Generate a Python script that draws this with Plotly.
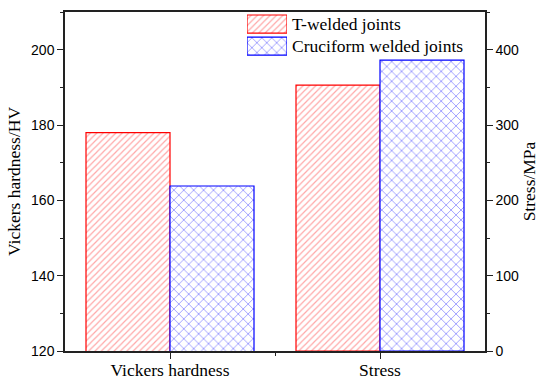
import plotly.graph_objects as go

categories = ["Vickers hardness", "Stress"]
series_names = ["T-welded joints", "Cruciform welded joints"]
t_welded = [178.0, 353.0]      # hardness (HV), stress (MPa)
cruciform = [163.8, 386.0]
left_ticks = [120, 140, 160, 180, 200]
right_ticks = [0, 100, 200, 300, 400]

x_pos = list(range(len(categories)))
serif = "Liberation Serif, Times New Roman, serif"
sans = "Liberation Sans, Arial, sans-serif"
axis_col = "#222222"

styles = [
    dict(line="#ff0000", fg="#ff5050", shape="/", size=4.5, sol=0.27, offset=-0.4),
    dict(line="#0000ff", fg="#3c3cff", shape="x", size=7, sol=0.25, offset=0.0),
]


def marker_for(st):
    return dict(color="white",
                line=dict(color=st["line"], width=1.2),
                pattern=dict(shape=st["shape"], fgcolor=st["fg"], bgcolor="white",
                             size=st["size"], solidity=st["sol"], fillmode="overlay"))


fig = go.Figure()
for si, (name, vals) in enumerate(zip(series_names, [t_welded, cruciform])):
    st = styles[si]
    for ci in range(len(categories)):
        fig.add_trace(go.Bar(
            x=[x_pos[ci]], y=[vals[ci]],
            yaxis="y" if ci == 0 else "y2",
            name=name, showlegend=False,
            width=0.4, offset=st["offset"],
            marker=marker_for(st),
        ))

# custom legend (large hatched swatches like the original)
for si, name in enumerate(series_names):
    fig.add_trace(go.Bar(
        x=[1], y=[len(series_names) - 1 - si], orientation="h",
        xaxis="x3", yaxis="y3", width=0.82, showlegend=False, hoverinfo="skip",
        marker=marker_for(styles[si]),
    ))
    fig.add_annotation(x=1, y=len(series_names) - 1 - si, xref="x3", yref="y3",
                       text=name, showarrow=False, xanchor="left", yanchor="middle",
                       xshift=3, font=dict(family=serif, size=17.5, color="black"))

fig.update_layout(
    width=550, height=384,
    margin=dict(l=65, r=65, t=12, b=33),
    paper_bgcolor="white", plot_bgcolor="white",
    barmode="overlay",
    showlegend=False,
    xaxis=dict(range=[-0.5, 1.5], tickvals=x_pos, ticktext=categories,
               showline=True, linecolor=axis_col, linewidth=1.5, mirror=True,
               ticks="outside", ticklen=6, tickcolor=axis_col, tickwidth=1.2,
               minor=dict(tickvals=[0.5], ticks="outside", ticklen=3, tickcolor=axis_col),
               showgrid=False, zeroline=False, automargin=False, ticklabelstandoff=-4,
               tickfont=dict(family=serif, size=17.5, color="black")),
    yaxis=dict(range=[120, 210], tickvals=left_ticks,
               title=dict(text="Vickers hardness/HV", font=dict(family=serif, size=17.5, color="black"), standoff=6),
               showline=True, linecolor=axis_col, linewidth=1.5,
               ticks="outside", ticklen=6, tickcolor=axis_col, tickwidth=1.2,
               minor=dict(dtick=10, tick0=120, ticks="outside", ticklen=3, tickcolor=axis_col),
               showgrid=False, zeroline=False, automargin=False,
               tickfont=dict(family=sans, size=14, color="black")),
    yaxis2=dict(range=[0, 450], tickvals=right_ticks, overlaying="y", side="right",
                title=dict(text="Stress/MPa", font=dict(family=serif, size=17.5, color="black"), standoff=4),
                showline=True, linecolor=axis_col, linewidth=1.5,
                ticks="outside", ticklen=6, tickcolor=axis_col, tickwidth=1.2,
                minor=dict(dtick=50, tick0=0, ticks="outside", ticklen=3, tickcolor=axis_col),
                showgrid=False, zeroline=False, automargin=False,
                tickfont=dict(family=sans, size=14, color="black")),
    xaxis3=dict(domain=[0.4333, 0.5286], range=[0, 1], anchor="y3", visible=False, fixedrange=True),
    yaxis3=dict(domain=[0.867, 0.997], range=[-0.5, 1.5], anchor="x3", visible=False, fixedrange=True),
)

fig.write_html("out.html", config={"displayModeBar": False},
               post_script="document.body.style.margin='0';document.body.style.padding='0';")
